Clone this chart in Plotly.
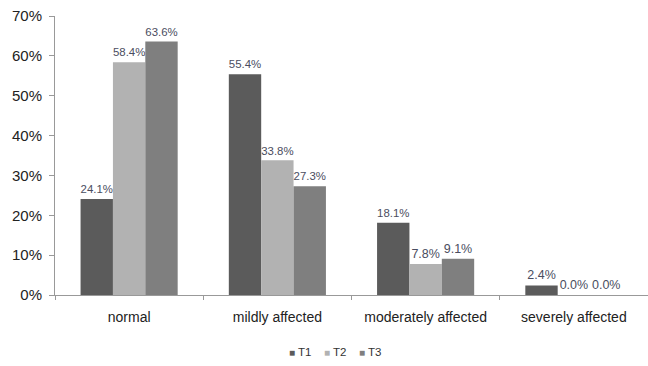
import plotly.graph_objects as go

categories = ["normal", "mildly affected", "moderately affected", "severely affected"]
t1 = [24.1, 55.4, 18.1, 2.4]
t2 = [58.4, 33.8, 7.8, 0.0]
t3 = [63.6, 27.3, 9.1, 0.0]
series_names = ["T1", "T2", "T3"]
series_colors = ["#5b5b5b", "#b2b2b2", "#7f7f7f"]
y_ticks = [0, 10, 20, 30, 40, 50, 60, 70]

fig = go.Figure()
for name, vals, color in zip(series_names, [t1, t2, t3], series_colors):
    fig.add_trace(go.Bar(
        name=name,
        x=categories,
        y=vals,
        marker=dict(color=color, line=dict(width=0)),
        text=[f"{v:.1f}%" for v in vals],
        textposition="outside",
        textfont=dict(family="Liberation Sans, Arial", size=12.5, color="#4a4d60"),
        cliponaxis=False,
        showlegend=False,
    ))

# Compact legend row below the axis
legend_x0 = 0.391
legend_step = 0.059
for i, (name, color) in enumerate(zip(series_names, series_colors)):
    fig.add_annotation(
        xref="paper", yref="paper",
        x=legend_x0 + i * legend_step, y=-0.205,
        xanchor="left", yanchor="middle",
        text=f"<span style='color:{color}; font-size:10px'>■</span> {name}",
        showarrow=False,
        font=dict(family="Liberation Sans, Arial", size=11.5, color="#333333"),
    )

fig.update_layout(
    width=648,
    height=366,
    margin=dict(l=55, r=0, t=16, b=71),
    paper_bgcolor="white",
    plot_bgcolor="white",
    barmode="group",
    bargap=0.345,
    bargroupgap=0,
    font=dict(family="Liberation Sans, Arial", color="#222222"),
    showlegend=False,
    xaxis=dict(
        showline=True, linecolor="#999999", linewidth=1,
        ticks="outside", tickson="boundaries", ticklen=4, tickcolor="#999999",
        ticklabelstandoff=9,
        tickfont=dict(size=14, color="#222222"),
        showgrid=False,
    ),
    yaxis=dict(
        range=[0, 70],
        tickvals=y_ticks,
        ticktext=[f"{v}%" for v in y_ticks],
        showline=True, linecolor="#999999", linewidth=1,
        ticks="outside", ticklen=5, tickcolor="#999999",
        ticklabelstandoff=4,
        tickfont=dict(size=15, color="#222222"),
        showgrid=False, zeroline=False,
    ),
)

fig.write_html("out.html")
